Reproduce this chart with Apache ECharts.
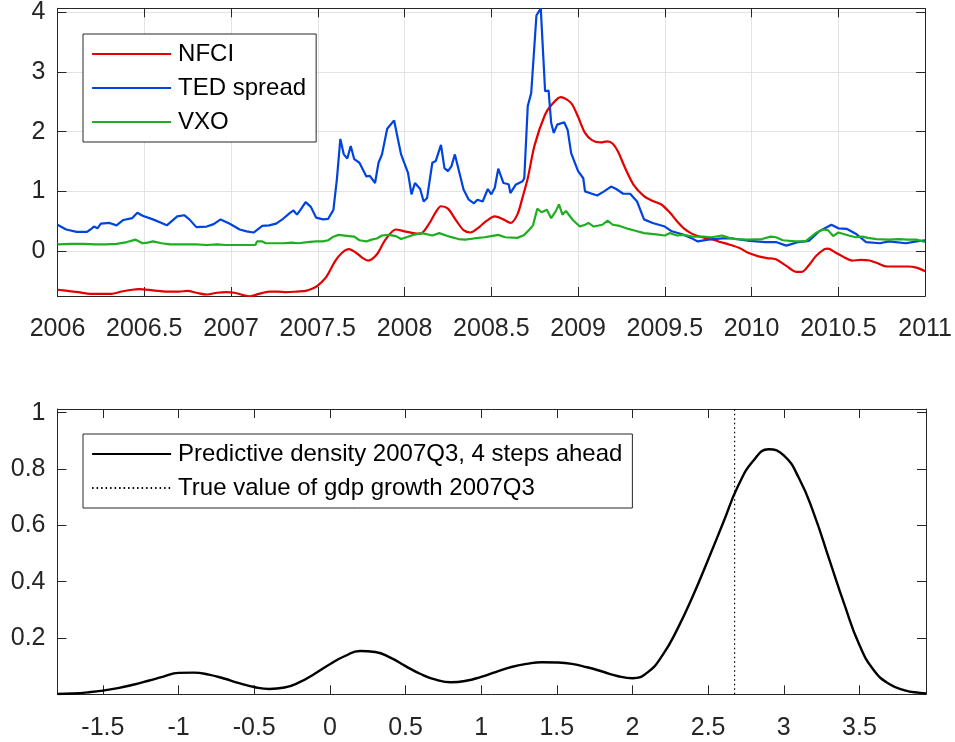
<!DOCTYPE html>
<html>
<head>
<meta charset="utf-8">
<script src="https://cdn.jsdelivr.net/npm/echarts@6/dist/echarts.min.js"></script>
<style>
  html, body { margin: 0; padding: 0; background: #fff; }
  #chart { width: 955px; height: 742px; }
</style>
</head>
<body>
<div id="chart"></div>
<script>
// ---- Financial stress indicators, 2006-2011 ----
const nfciYear = [2006.00, 2006.06, 2006.12, 2006.19, 2006.25, 2006.31, 2006.37, 2006.43, 2006.47, 2006.55,
  2006.63, 2006.70, 2006.75, 2006.80, 2006.86, 2006.92, 2006.97, 2007.02, 2007.07, 2007.11,
  2007.16, 2007.22, 2007.27, 2007.32, 2007.38, 2007.43, 2007.47, 2007.50, 2007.55, 2007.60,
  2007.64, 2007.68, 2007.72, 2007.76, 2007.79, 2007.84, 2007.89, 2007.95, 2008.00, 2008.05,
  2008.09, 2008.14, 2008.18, 2008.21, 2008.25, 2008.30, 2008.34, 2008.38, 2008.43, 2008.47,
  2008.52, 2008.57, 2008.61, 2008.65, 2008.68, 2008.71, 2008.75, 2008.81, 2008.85, 2008.90,
  2008.96, 2009.00, 2009.04, 2009.08, 2009.13, 2009.17, 2009.20, 2009.23, 2009.27, 2009.32,
  2009.38, 2009.43, 2009.48, 2009.53, 2009.57, 2009.61, 2009.65, 2009.69, 2009.73, 2009.78,
  2009.82, 2009.87, 2009.93, 2009.98, 2010.04, 2010.09, 2010.14, 2010.20, 2010.26, 2010.29,
  2010.33, 2010.37, 2010.42, 2010.44, 2010.48, 2010.53, 2010.58, 2010.63, 2010.68, 2010.73,
  2010.78, 2010.84, 2010.90, 2010.95, 2011.00];
const nfciValue = [-0.65, -0.67, -0.69, -0.72, -0.72, -0.72, -0.68, -0.65, -0.64, -0.66,
  -0.68, -0.68, -0.67, -0.70, -0.73, -0.70, -0.69, -0.70, -0.74, -0.76,
  -0.72, -0.68, -0.68, -0.69, -0.68, -0.67, -0.63, -0.58, -0.43, -0.17,
  -0.03, 0.03, -0.03, -0.12, -0.16, -0.06, 0.19, 0.36, 0.33, 0.30,
  0.29, 0.45, 0.65, 0.75, 0.71, 0.50, 0.35, 0.31, 0.40, 0.50,
  0.58, 0.53, 0.47, 0.61, 0.90, 1.22, 1.78, 2.29, 2.46, 2.58,
  2.48, 2.25, 1.98, 1.86, 1.82, 1.84, 1.80, 1.67, 1.40, 1.11,
  0.92, 0.84, 0.78, 0.64, 0.50, 0.38, 0.30, 0.25, 0.22, 0.19,
  0.15, 0.11, 0.05, -0.03, -0.09, -0.12, -0.14, -0.25, -0.35, -0.35,
  -0.24, -0.09, 0.03, 0.04, -0.02, -0.10, -0.16, -0.15, -0.16, -0.21,
  -0.26, -0.26, -0.26, -0.28, -0.34];

const tedYear = [2006.00, 2006.05, 2006.11, 2006.17, 2006.19, 2006.21, 2006.23, 2006.25, 2006.30, 2006.34,
  2006.38, 2006.43, 2006.46, 2006.49, 2006.55, 2006.60, 2006.63, 2006.69, 2006.73, 2006.76,
  2006.80, 2006.86, 2006.90, 2006.94, 2006.99, 2007.05, 2007.09, 2007.13, 2007.18, 2007.22,
  2007.26, 2007.30, 2007.34, 2007.36, 2007.38, 2007.40, 2007.43, 2007.46, 2007.49, 2007.53,
  2007.56, 2007.59, 2007.61, 2007.63, 2007.65, 2007.67, 2007.69, 2007.71, 2007.74, 2007.78,
  2007.80, 2007.83, 2007.85, 2007.87, 2007.90, 2007.94, 2007.96, 2007.98, 2008.02, 2008.04,
  2008.06, 2008.09, 2008.11, 2008.13, 2008.16, 2008.18, 2008.21, 2008.23, 2008.25, 2008.27,
  2008.29, 2008.30, 2008.34, 2008.37, 2008.40, 2008.42, 2008.45, 2008.48, 2008.50, 2008.52,
  2008.54, 2008.57, 2008.60, 2008.61, 2008.64, 2008.68, 2008.69, 2008.71, 2008.73, 2008.76,
  2008.785, 2008.81, 2008.83, 2008.845, 2008.86, 2008.88, 2008.92, 2008.94, 2008.96, 2009.00,
  2009.03, 2009.04, 2009.08, 2009.11, 2009.15, 2009.19, 2009.22, 2009.26, 2009.30, 2009.34,
  2009.38, 2009.43, 2009.50, 2009.54, 2009.60, 2009.65, 2009.69, 2009.75, 2009.83, 2009.89,
  2009.99, 2010.08, 2010.14, 2010.20, 2010.27, 2010.33, 2010.39, 2010.46, 2010.50, 2010.55,
  2010.60, 2010.66, 2010.74, 2010.79, 2010.89, 2010.95, 2011.00];
const tedValue = [0.44, 0.36, 0.32, 0.32, 0.36, 0.41, 0.38, 0.46, 0.47, 0.43,
  0.52, 0.55, 0.64, 0.59, 0.53, 0.47, 0.43, 0.58, 0.60, 0.53,
  0.40, 0.41, 0.45, 0.53, 0.46, 0.36, 0.33, 0.31, 0.42, 0.43,
  0.46, 0.54, 0.64, 0.68, 0.61, 0.69, 0.82, 0.74, 0.56, 0.53,
  0.54, 0.69, 1.20, 1.88, 1.62, 1.55, 1.76, 1.54, 1.48, 1.25,
  1.26, 1.14, 1.48, 1.62, 2.05, 2.19, 1.90, 1.62, 1.31, 0.95,
  1.14, 1.04, 0.83, 0.89, 1.48, 1.51, 1.78, 1.39, 1.34, 1.42,
  1.62, 1.63, 1.03, 0.86, 0.80, 0.86, 0.83, 1.04, 0.95, 1.06,
  1.38, 1.14, 1.12, 0.97, 1.11, 1.17, 1.22, 2.43, 2.65, 3.95,
  4.07, 2.68, 2.69, 2.15, 1.98, 2.12, 2.16, 2.03, 1.64, 1.34,
  1.22, 1.00, 0.96, 0.93, 1.00, 1.08, 1.04, 0.96, 0.96, 0.83,
  0.53, 0.47, 0.41, 0.33, 0.28, 0.22, 0.16, 0.19, 0.21, 0.21,
  0.17, 0.15, 0.15, 0.09, 0.15, 0.17, 0.33, 0.44, 0.38, 0.37,
  0.29, 0.15, 0.13, 0.16, 0.13, 0.16, 0.18];

const vxoYear = [2006.00, 2006.08, 2006.15, 2006.22, 2006.28, 2006.34, 2006.40, 2006.45, 2006.49, 2006.52,
  2006.55, 2006.60, 2006.65, 2006.74, 2006.80, 2006.86, 2006.92, 2006.97, 2007.05, 2007.10,
  2007.14, 2007.15, 2007.18, 2007.20, 2007.25, 2007.30, 2007.35, 2007.39, 2007.44, 2007.49,
  2007.53, 2007.56, 2007.59, 2007.62, 2007.63, 2007.68, 2007.71, 2007.74, 2007.78, 2007.81,
  2007.84, 2007.87, 2007.91, 2007.95, 2007.98, 2008.02, 2008.05, 2008.10, 2008.16, 2008.20,
  2008.26, 2008.31, 2008.35, 2008.40, 2008.46, 2008.50, 2008.54, 2008.58, 2008.65, 2008.69,
  2008.72, 2008.74, 2008.765, 2008.79, 2008.82, 2008.845, 2008.87, 2008.89, 2008.91, 2008.93,
  2008.97, 2009.01, 2009.04, 2009.06, 2009.09, 2009.14, 2009.17, 2009.20, 2009.24, 2009.29,
  2009.33, 2009.38, 2009.45, 2009.50, 2009.53, 2009.57, 2009.61, 2009.66, 2009.72, 2009.77,
  2009.83, 2009.87, 2009.91, 2009.98, 2010.06, 2010.11, 2010.14, 2010.18, 2010.25, 2010.31,
  2010.37, 2010.41, 2010.44, 2010.47, 2010.50, 2010.56, 2010.60, 2010.64, 2010.67, 2010.72,
  2010.79, 2010.85, 2010.90, 2010.95, 2011.00];
const vxoValue = [0.11, 0.12, 0.12, 0.11, 0.11, 0.12, 0.15, 0.19, 0.13, 0.14,
  0.16, 0.13, 0.11, 0.11, 0.11, 0.10, 0.11, 0.10, 0.10, 0.10,
  0.10, 0.16, 0.16, 0.13, 0.13, 0.13, 0.14, 0.13, 0.15, 0.16,
  0.16, 0.18, 0.24, 0.27, 0.24, 0.25, 0.24, 0.18, 0.16, 0.19,
  0.21, 0.26, 0.27, 0.25, 0.20, 0.24, 0.27, 0.30, 0.26, 0.30,
  0.24, 0.20, 0.19, 0.21, 0.23, 0.25, 0.27, 0.23, 0.22, 0.27,
  0.36, 0.43, 0.71, 0.65, 0.69, 0.55, 0.66, 0.78, 0.61, 0.67,
  0.52, 0.41, 0.44, 0.47, 0.41, 0.44, 0.51, 0.44, 0.42, 0.37,
  0.34, 0.30, 0.28, 0.26, 0.30, 0.26, 0.27, 0.24, 0.24, 0.23,
  0.26, 0.22, 0.20, 0.19, 0.20, 0.24, 0.23, 0.18, 0.16, 0.16,
  0.30, 0.36, 0.35, 0.25, 0.31, 0.26, 0.23, 0.24, 0.22, 0.20,
  0.19, 0.20, 0.19, 0.19, 0.15];

// ---- Predictive density of GDP growth, 2007Q3, 4 steps ahead ----
const growthGrid = [-1.8, -1.7, -1.6, -1.5, -1.4, -1.3, -1.2, -1.1, -1.0, -0.9,
  -0.8, -0.7, -0.6, -0.5, -0.4, -0.3, -0.2, -0.1, 0.0, 0.1,
  0.2, 0.3, 0.4, 0.5, 0.6, 0.7, 0.8, 0.9, 1.0, 1.1,
  1.2, 1.3, 1.4, 1.5, 1.6, 1.7, 1.8, 1.9, 2.0, 2.1,
  2.2, 2.3, 2.4, 2.5, 2.6, 2.7, 2.8, 2.9, 3.0, 3.1,
  3.2, 3.3, 3.4, 3.5, 3.6, 3.7, 3.8, 3.9, 3.94];
const densityValue = [0.001, 0.003, 0.007, 0.013, 0.022, 0.034, 0.048, 0.063, 0.076, 0.077,
  0.070, 0.056, 0.040, 0.026, 0.019, 0.024, 0.043, 0.073, 0.107, 0.136,
  0.154, 0.150, 0.130, 0.100, 0.072, 0.052, 0.043, 0.048, 0.062, 0.080,
  0.097, 0.108, 0.114, 0.113, 0.108, 0.096, 0.081, 0.065, 0.057, 0.078,
  0.140, 0.235, 0.350, 0.478, 0.610, 0.742, 0.830, 0.870, 0.848, 0.768,
  0.640, 0.480, 0.320, 0.175, 0.082, 0.036, 0.014, 0.005, 0.003];
const trueGrowth = 2.675;
const densityTop = 1.013;

const seriesNames = ['NFCI', 'TED spread', 'VXO',
  'Predictive density 2007Q3, 4 steps ahead', 'True value of gdp growth 2007Q3'];

const pairs = (xs, ys) => xs.map((x, i) => [x, ys[i]]);

const FONT = '"Liberation Sans", Arial, Helvetica, sans-serif';
const AX = '#262626';
const GRIDC = '#e3e3e3';

function mainAxis(extra) {
  return Object.assign({
    type: 'value',
    axisLine: { show: true, onZero: false, lineStyle: { color: AX, width: 1 } },
    axisTick: { show: true, inside: true, length: 9, lineStyle: { color: AX, width: 1 } },
    splitLine: { show: false }
  }, extra);
}
function mirrorAxis(extra) {
  return Object.assign({
    type: 'value',
    axisLine: { show: true, onZero: false, lineStyle: { color: AX, width: 1 } },
    axisTick: { show: true, inside: true, length: 9, lineStyle: { color: AX, width: 1 } },
    axisLabel: { show: false },
    splitLine: { show: false }
  }, extra);
}
function tickLabels(margin) {
  return {
    fontSize: 25, fontFamily: FONT, color: AX, margin: margin,
    showMinLabel: false, showMaxLabel: false, formatter: v => String(v)
  };
}

// Boxed legend: plain line samples, no point markers
function legendBox(top, names) {
  return {
    orient: 'vertical',
    left: 83,
    top: top,
    data: names,
    backgroundColor: '#ffffff',
    borderColor: AX,
    borderWidth: 1,
    borderRadius: 0,
    padding: [8, 10, 8, 8],
    itemWidth: 79,
    itemHeight: 14,
    itemGap: 10,
    selectedMode: false,
    itemStyle: { opacity: 0 },
    lineStyle: { width: 2.2 },
    textStyle: { fontSize: 24, lineHeight: 24, fontFamily: FONT, color: '#000', padding: [0, 0, 0, 2] }
  };
}

const option = {
  animation: false,
  backgroundColor: '#ffffff',
  grid: [
    { left: 57.5, right: 29, top: 8.3, height: 287.7 },
    { left: 57.5, right: 29, top: 409, height: 285.3 }
  ],
  legend: [
    legendBox(34, seriesNames.slice(0, 3)),
    legendBox(434, seriesNames.slice(3))
  ],
  xAxis: [
    mainAxis({
      gridIndex: 0, position: 'bottom', min: 2006, max: 2011, interval: 0.5,
      axisLabel: { fontSize: 25, fontFamily: FONT, color: AX, margin: 21, formatter: v => String(v) },
      splitLine: { show: true, lineStyle: { color: GRIDC, width: 1 } }
    }),
    mirrorAxis({ gridIndex: 0, position: 'top', min: 2006, max: 2011, interval: 0.5 }),
    mainAxis({
      gridIndex: 1, position: 'bottom', min: -1.8, max: 3.94, splitNumber: 11,
      axisLabel: tickLabels(21)
    }),
    mirrorAxis({ gridIndex: 1, position: 'top', min: -1.8, max: 3.94, splitNumber: 11 })
  ],
  yAxis: [
    mainAxis({
      gridIndex: 0, position: 'left', min: -0.755, max: 4.07, splitNumber: 5,
      axisLabel: tickLabels(12),
      splitLine: { show: true, lineStyle: { color: GRIDC, width: 1 } }
    }),
    mirrorAxis({ gridIndex: 0, position: 'right', min: -0.755, max: 4.07, splitNumber: 5 }),
    mainAxis({
      gridIndex: 1, position: 'left', min: 0, max: densityTop, interval: 0.2,
      axisLabel: tickLabels(12)
    }),
    mirrorAxis({ gridIndex: 1, position: 'right', min: 0, max: densityTop, interval: 0.2 })
  ],
  series: [
    {
      name: seriesNames[0], type: 'line', xAxisIndex: 0, yAxisIndex: 0,
      data: pairs(nfciYear, nfciValue), showSymbol: false, symbol: 'none', smooth: 0.3,
      color: '#e40000', lineStyle: { color: '#e40000', width: 2.2 }, z: 3
    },
    {
      name: seriesNames[1], type: 'line', xAxisIndex: 0, yAxisIndex: 0,
      data: pairs(tedYear, tedValue), showSymbol: false, symbol: 'none',
      color: '#0043e0', lineStyle: { color: '#0043e0', width: 2.2 }, z: 4
    },
    {
      name: seriesNames[2], type: 'line', xAxisIndex: 0, yAxisIndex: 0,
      data: pairs(vxoYear, vxoValue), showSymbol: false, symbol: 'none',
      color: '#1fae1f', lineStyle: { color: '#1fae1f', width: 2.2 }, z: 5
    },
    {
      name: seriesNames[3], type: 'line', xAxisIndex: 2, yAxisIndex: 2,
      data: pairs(growthGrid, densityValue), showSymbol: false, symbol: 'none', smooth: 0.5,
      color: '#000000', lineStyle: { color: '#000000', width: 2.4 }, z: 4
    },
    {
      name: seriesNames[4], type: 'line', xAxisIndex: 2, yAxisIndex: 2,
      data: [[trueGrowth, 0], [trueGrowth, densityTop]], showSymbol: false, symbol: 'none',
      color: '#000000', lineStyle: { color: '#000000', width: 1.2, type: [1.5, 3] }, z: 3
    }
  ]
};

const chart = echarts.init(document.getElementById('chart'), null, { renderer: 'canvas' });
chart.setOption(option);
</script>
</body>
</html>
